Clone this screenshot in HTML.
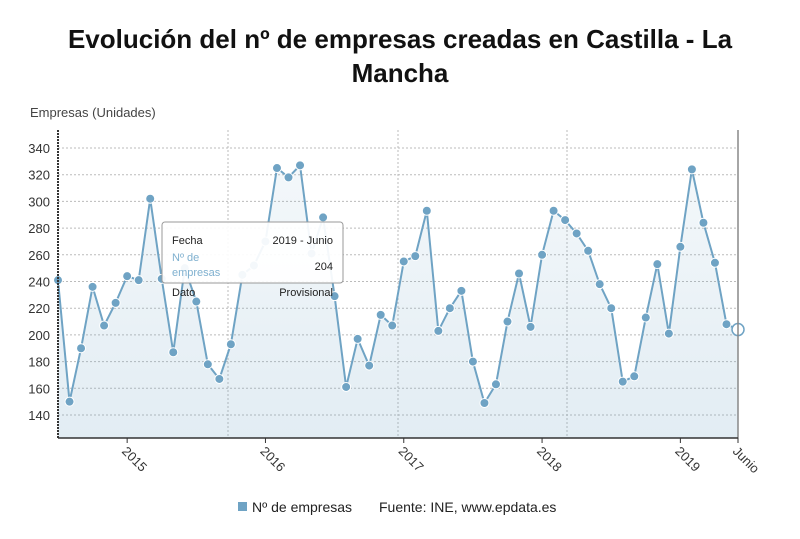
<!DOCTYPE html>
<html><head><meta charset="utf-8"><style>
body{margin:0;background:#fff;font-family:"Liberation Sans","DejaVu Sans",sans-serif;}
#wrap{position:relative;width:800px;height:539px;overflow:hidden;}
</style></head><body>
<div id="wrap">
<svg id="chart" width="800" height="539">
<defs><linearGradient id="fillg" x1="0" y1="0" x2="0" y2="1"><stop offset="0" stop-color="#6fa3c4" stop-opacity="0.08"/><stop offset="1" stop-color="#6fa3c4" stop-opacity="0.2"/></linearGradient></defs>
<text x="400" y="48" text-anchor="middle" font-size="26" font-weight="bold" fill="#111">Evolución del nº de empresas creadas en Castilla - La</text>
<text x="400" y="82" text-anchor="middle" font-size="26" font-weight="bold" fill="#111">Mancha</text>
<text x="30" y="117" font-size="13" fill="#444">Empresas (Unidades)</text>
<g id="grid"></g><g id="series"></g><g id="axes"></g>
<g>
<rect x="162" y="222" width="181" height="61" rx="3" fill="#fff" fill-opacity="0.92" stroke="#999"/>
<text x="172" y="244" font-size="11" fill="#222">Fecha</text>
<text x="333" y="244" font-size="11" fill="#222" text-anchor="end">2019 - Junio</text>
<text x="172" y="261" font-size="11" fill="#7fb0cf">Nº de</text>
<text x="172" y="276" font-size="11" fill="#7fb0cf">empresas</text>
<text x="333" y="270" font-size="11" fill="#222" text-anchor="end">204</text>
<text x="172" y="296" font-size="11" fill="#222">Dato</text>
<text x="333" y="296" font-size="11" fill="#222" text-anchor="end">Provisional</text>
</g>
<g>
<rect x="238" y="502" width="9" height="9" fill="#6fa3c4"/>
<text x="252" y="512" font-size="14" fill="#222">Nº de empresas</text>
<text x="379" y="512" font-size="14" fill="#222">Fuente: INE, www.epdata.es</text>
</g>
</svg>
</div>
<script>
const values=[241,150,190,236,207,224,244,241,302,242,187,250,225,178,167,193,245,252,270,325,318,327,261,288,229,161,197,177,215,207,255,259,293,203,220,233,180,149,163,210,246,206,260,293,286,276,263,238,220,165,169,213,253,201,266,324,284,254,208,204];
const yTicks=[140,160,180,200,220,240,260,280,300,320,340];
const xTickIdx=[6,18,30,42,54,59];
const xTickLabels=["2015","2016","2017","2018","2019","Junio"];
const NS="http://www.w3.org/2000/svg";
const L=58,R=738,T=130,B=438;
const x=i=>L+i*(R-L)/(values.length-1);
const y=v=>415-(v-140)*(415-148)/200;
function mk(tag,at,parent){const e=document.createElementNS(NS,tag);for(const k in at)e.setAttribute(k,at[k]);parent.appendChild(e);return e;}
const grid=document.getElementById('grid'),ser=document.getElementById('series'),ax=document.getElementById('axes');
yTicks.forEach(t=>{
 const g=mk('line',{x1:L,x2:R,y1:y(t),y2:y(t),stroke:'#bbb','stroke-dasharray':'2,2'},grid);
 
 
 const tx=mk('text',{x:L-8,y:y(t)+5,'text-anchor':'end','font-size':13,fill:'#333'},ax);
 tx.textContent=t;
 
 
});
[228,398,567].forEach(px=>{
 const g=mk('line',{x1:px,x2:px,y1:T,y2:B,stroke:'#bbb','stroke-dasharray':'2,2'},grid);
 
 
});
let d='M'+x(0)+','+y(values[0]);
values.forEach((v,i)=>{if(i)d+=' L'+x(i)+','+y(v);});
const area=mk('path',{d:d+' L'+x(values.length-1)+','+B+' L'+L+','+B+' Z',fill:'url(#fillg)'},ser);


const line=mk('path',{d:d,fill:'none',stroke:'#6fa3c4','stroke-width':2},ser);


values.forEach((v,i)=>{
 const last=i===values.length-1;
 const c=mk('circle',{cx:x(i),cy:y(v),r:last?6:4.5,fill:last?'#fff':'#6fa3c4',stroke:last?'#6fa3c4':'#fff','stroke-width':last?1.5:1},ser);
 
 
});
const la=mk('line',{x1:L,x2:L,y1:T,y2:B,stroke:'#333','stroke-width':2,'stroke-dasharray':'2,1'},ax);


const ra=mk('line',{x1:R,x2:R,y1:T,y2:B,stroke:'#888','stroke-width':1.5},ax);


const ba=mk('line',{x1:L,x2:R,y1:B,y2:B,stroke:'#333','stroke-width':1.5},ax);


xTickIdx.forEach((idx,k)=>{
 const px=x(idx);
 const tk=mk('line',{x1:px,x2:px,y1:B,y2:B+5,stroke:'#333'},ax);
 
 
 const t=mk('text',{x:px-6,y:B+14,'font-size':13,fill:'#333',transform:'rotate(45 '+(px-6)+' '+(B+14)+')'},ax);
 t.textContent=xTickLabels[k];
 
 
});
</script>
</body></html>
